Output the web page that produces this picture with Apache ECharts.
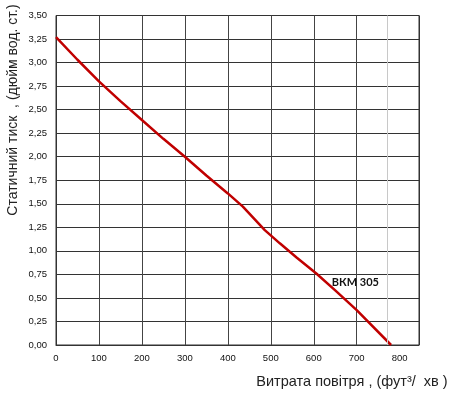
<!DOCTYPE html>
<html>
<head>
<meta charset="utf-8">
<script src="https://cdn.jsdelivr.net/npm/echarts@6/dist/echarts.min.js"></script>
<style>html,body{margin:0;padding:0;background:#fff}#c{width:450px;height:394px}</style>
</head>
<body>
<div id="c"></div>
<script>
// Data
const airflow = [0, 50, 100, 150, 200, 250, 300, 350, 400, 435, 486, 521, 560, 606, 650, 700, 780];
const pressure = [3.27, 3.03, 2.80, 2.59, 2.39, 2.19, 2.00, 1.80, 1.61, 1.47, 1.22, 1.08, 0.93, 0.76, 0.58, 0.37, 0.00];
const seriesName = 'ВКМ 305';
const labelPoint = [697, 0.66];
const xTitle = 'Витрата повітря , (фут³/  хв )';
const yTitle = 'Статичний тиск  , (дюйм вод. ст.)';

const chart = echarts.init(document.getElementById('c'), null, {renderer: 'canvas'});
const font = 'Liberation Sans, Arial, sans-serif';
chart.setOption({
  animation: false,
  grid: {left: 56, top: 15.5, right: 31, bottom: 49, show: true, borderColor: '#333', borderWidth: 1, backgroundColor: 'transparent'},
  xAxis: {
    type: 'value', min: 0, max: 845, interval: 100,
    axisLine: {show: true, lineStyle: {color: '#333', width: 1}},
    axisTick: {show: false},
    axisLabel: {fontFamily: font, fontSize: 9.5, color: '#111', margin: 8,
      formatter: v => (v % 100 === 0 ? String(v) : '')},
    splitLine: {show: true, lineStyle: {color: ['#333','#444','#444','#444','#444','#444','#444','#444','rgba(0,0,0,0)','#333'], width: 1}}
  },
  yAxis: {
    type: 'value', min: 0, max: 3.5, interval: 0.25,
    axisLine: {show: true, lineStyle: {color: '#333', width: 1}},
    axisTick: {show: false},
    axisLabel: {fontFamily: font, fontSize: 9.5, color: '#111', margin: 9,
      formatter: v => v.toFixed(2).replace('.', ',')},
    splitLine: {show: true, lineStyle: {color: '#333', width: 1}}
  },
  series: [{
    type: 'line', name: seriesName,
    data: airflow.map((x, i) => [x, pressure[i]]),
    showSymbol: false, symbol: 'none', smooth: false,
    lineStyle: {color: '#c00000', width: 2.5},
    markLine: {silent: true, symbol: 'none', label: {show: false},
      lineStyle: {color: '#c8c8c8', width: 1, type: 'solid'},
      data: [{xAxis: 770}]},
    markPoint: {symbol: 'rect', symbolSize: 1, itemStyle: {color: 'rgba(0,0,0,0)'},
      label: {show: true, position: 'inside', formatter: seriesName, fontFamily: 'Lato, Open Sans, sans-serif', fontWeight: 'bold', fontSize: 11, color: '#111'},
      data: [{coord: labelPoint}]}
  }],
  graphic: [
    {type: 'text', x: 352, y: 382, style: {text: xTitle, fontFamily: font, fontSize: 14.5, fill: '#222', textAlign: 'center', textVerticalAlign: 'middle'}},
    {type: 'text', x: 13, y: 110, rotation: Math.PI / 2, style: {text: yTitle, fontFamily: font, fontSize: 14, fill: '#222', textAlign: 'center', textVerticalAlign: 'middle'}}
  ]
});
</script>
</body>
</html>
